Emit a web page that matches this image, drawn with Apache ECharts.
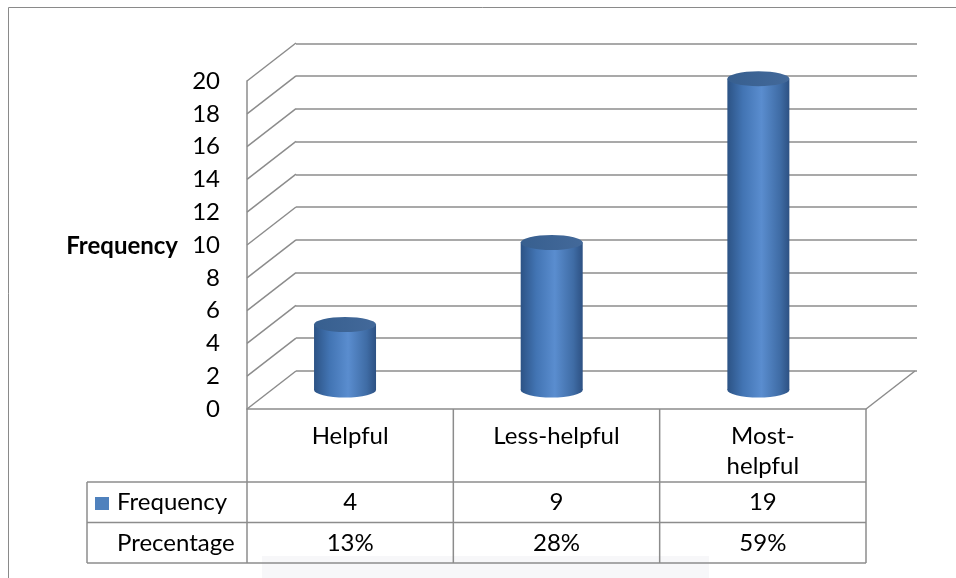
<!DOCTYPE html>
<html lang="en">
<head>
<meta charset="UTF-8">
<title>Frequency</title>
<script src="https://cdn.jsdelivr.net/npm/echarts@6/dist/echarts.min.js"></script>
<style>
  html, body { margin: 0; padding: 0; background: #fff; }
  #main { width: 956px; height: 578px; }
</style>
</head>
<body>
<div id="main"></div>
<script>
// data
var categories = ['Helpful', 'Less-helpful', 'Most-\nhelpful'];
var frequency = [4, 9, 19];
var percentage = ['13%', '28%', '59%'];
var yTicks = [0, 2, 4, 6, 8, 10, 12, 14, 16, 18, 20];
var rowNames = ['Frequency', 'Precentage'];

var FONT = 'Lato';
var GRID_LINE = '#8c8c8c';
var DX = 49, DY = 38;   // depth offset front -> back wall

// front plane geometry (also used for the table)
var front = { left: 247, top: 81, width: 619, height: 328 };

var chart = echarts.init(document.getElementById('main'));

function diagonals(params, api) {
  var p = api.coord([0, api.value(0)]);
  var x0 = params.coordSys.x;
  var kids = [{
    type: 'line',
    shape: { x1: x0, y1: p[1], x2: x0 + DX, y2: p[1] - DY },
    style: { stroke: GRID_LINE, lineWidth: 1.5 }
  }];
  if (api.value(0) === 0) {
    var xr = params.coordSys.x + params.coordSys.width;
    kids.push({
      type: 'line',
      shape: { x1: xr, y1: p[1], x2: xr + DX, y2: p[1] - DY },
      style: { stroke: GRID_LINE, lineWidth: 1.5 }
    });
  }
  return { type: 'group', children: kids };
}

function cylinder(params, api) {
  var top = api.coord([api.value(0), api.value(1)]);
  var bot = api.coord([api.value(0), 0]);
  var hw = 31, ry = 7.5;
  var body = new echarts.graphic.LinearGradient(0, 0, 1, 0, [
    { offset: 0, color: '#2c5385' },
    { offset: 0.25, color: '#4274b3' },
    { offset: 0.55, color: '#5a8dcf' },
    { offset: 0.85, color: '#3f6ca5' },
    { offset: 1, color: '#2d5183' }
  ]);
  var cap = new echarts.graphic.LinearGradient(0, 0, 1, 0, [
    { offset: 0, color: '#375f8f' },
    { offset: 1, color: '#43699a' }
  ]);
  return {
    type: 'group',
    children: [
      { type: 'rect', shape: { x: top[0] - hw, y: top[1], width: hw * 2, height: bot[1] - top[1] }, style: { fill: body } },
      { type: 'circle', shape: { cx: 0, cy: 0, r: hw }, x: bot[0], y: bot[1], scaleY: ry / hw, style: { fill: body } },
      { type: 'circle', shape: { cx: 0, cy: 0, r: hw }, x: top[0], y: top[1], scaleY: ry / hw, style: { fill: cap } }
    ]
  };
}

// data table under the plot
function tableGraphics() {
  var g = [];
  var colW = front.width / categories.length;
  var xs = [];
  for (var i = 0; i <= categories.length; i++) xs.push(front.left + colW * i);
  var yTop = front.top + front.height;   // 409
  var rows = [482, 522.5, 563];
  var xLeft = 87;
  var line = function (x1, y1, x2, y2) {
    g.push({ type: 'line', shape: { x1: x1, y1: y1, x2: x2, y2: y2 }, style: { stroke: GRID_LINE, lineWidth: 1.5 } });
  };
  xs.forEach(function (x) { line(x, yTop, x, rows[2]); });
  line(xLeft, rows[0], xLeft, rows[2]);
  rows.forEach(function (y) { line(xLeft, y, xs[xs.length - 1], y); });

  var txt = function (text, x, y, align) {
    g.push({ type: 'text', x: x, y: y, style: { text: text, fill: '#000', font: '24px ' + FONT, align: align || 'center', verticalAlign: 'middle', lineHeight: 30 } });
  };
  categories.forEach(function (c, i) {
    var cx = (xs[i] + xs[i + 1]) / 2;
    var n = c.split('\n').length;
    txt(c, cx, n > 1 ? 451 : 436);
    txt(String(frequency[i]), cx, 502);
    txt(percentage[i], cx, 543);
  });
  g.push({ type: 'rect', shape: { x: 95, y: 497, width: 14, height: 13 }, style: { fill: '#4f81bd' } });
  txt(rowNames[0], 117, 502, 'left');
  txt(rowNames[1], 117, 543, 'left');
  return g;
}

var option = {
  animation: false,
  grid: [
    { left: 296, top: 43.3, width: 621, height: 327.7 },           // back wall
    { left: front.left, top: front.top, width: front.width, height: front.height }, // front plane
    { left: 241.7, top: 62.3, width: 620, height: 327.7 }          // bars (mid depth)
  ],
  xAxis: [
    { gridIndex: 0, type: 'category', data: categories, show: false },
    { gridIndex: 1, type: 'category', data: categories,
      axisLine: { show: true, lineStyle: { color: GRID_LINE, width: 1.5 } },
      axisTick: { show: false }, axisLabel: { show: false } },
    { gridIndex: 2, type: 'category', data: categories, show: false }
  ],
  yAxis: [
    { gridIndex: 0, type: 'value', min: 0, max: 20, interval: 2,
      axisLine: { show: false }, axisTick: { show: false }, axisLabel: { show: false },
      splitLine: { show: true, lineStyle: { color: GRID_LINE, width: 1.5 } } },
    { gridIndex: 1, type: 'value', min: 0, max: 20, interval: 2,
      axisLine: { show: true, lineStyle: { color: GRID_LINE, width: 1.5 } },
      axisTick: { show: false }, splitLine: { show: false },
      axisLabel: { margin: 27, color: '#000', fontSize: 24, fontFamily: FONT } },
    { gridIndex: 2, type: 'value', min: 0, max: 20, interval: 2, show: false, splitLine: { show: false } }
  ],
  graphic: [
    { type: 'rect', z: -10, shape: { x: 262, y: 556, width: 447, height: 30 }, style: { fill: '#f7f7f9' } },
    { type: 'rect', shape: { x: 8.5, y: 7.5, width: 1000, height: 700 }, style: { fill: 'none', stroke: '#8a8a8a', lineWidth: 1 } },
    { type: 'text', x: 178, y: 246, style: { text: 'Frequency', fill: '#000', font: 'bold 24px ' + FONT, align: 'right', verticalAlign: 'middle' } }
  ].concat(tableGraphics()),
  series: [
    { type: 'custom', xAxisIndex: 1, yAxisIndex: 1, renderItem: diagonals,
      encode: { y: 0 }, data: yTicks.map(function (v) { return [v]; }), silent: true },
    { type: 'custom', xAxisIndex: 2, yAxisIndex: 2, renderItem: cylinder,
      encode: { x: 0, y: 1 }, data: frequency.map(function (v, i) { return [i, v]; }) }
  ]
};
chart.setOption(option);
</script>
</body>
</html>
